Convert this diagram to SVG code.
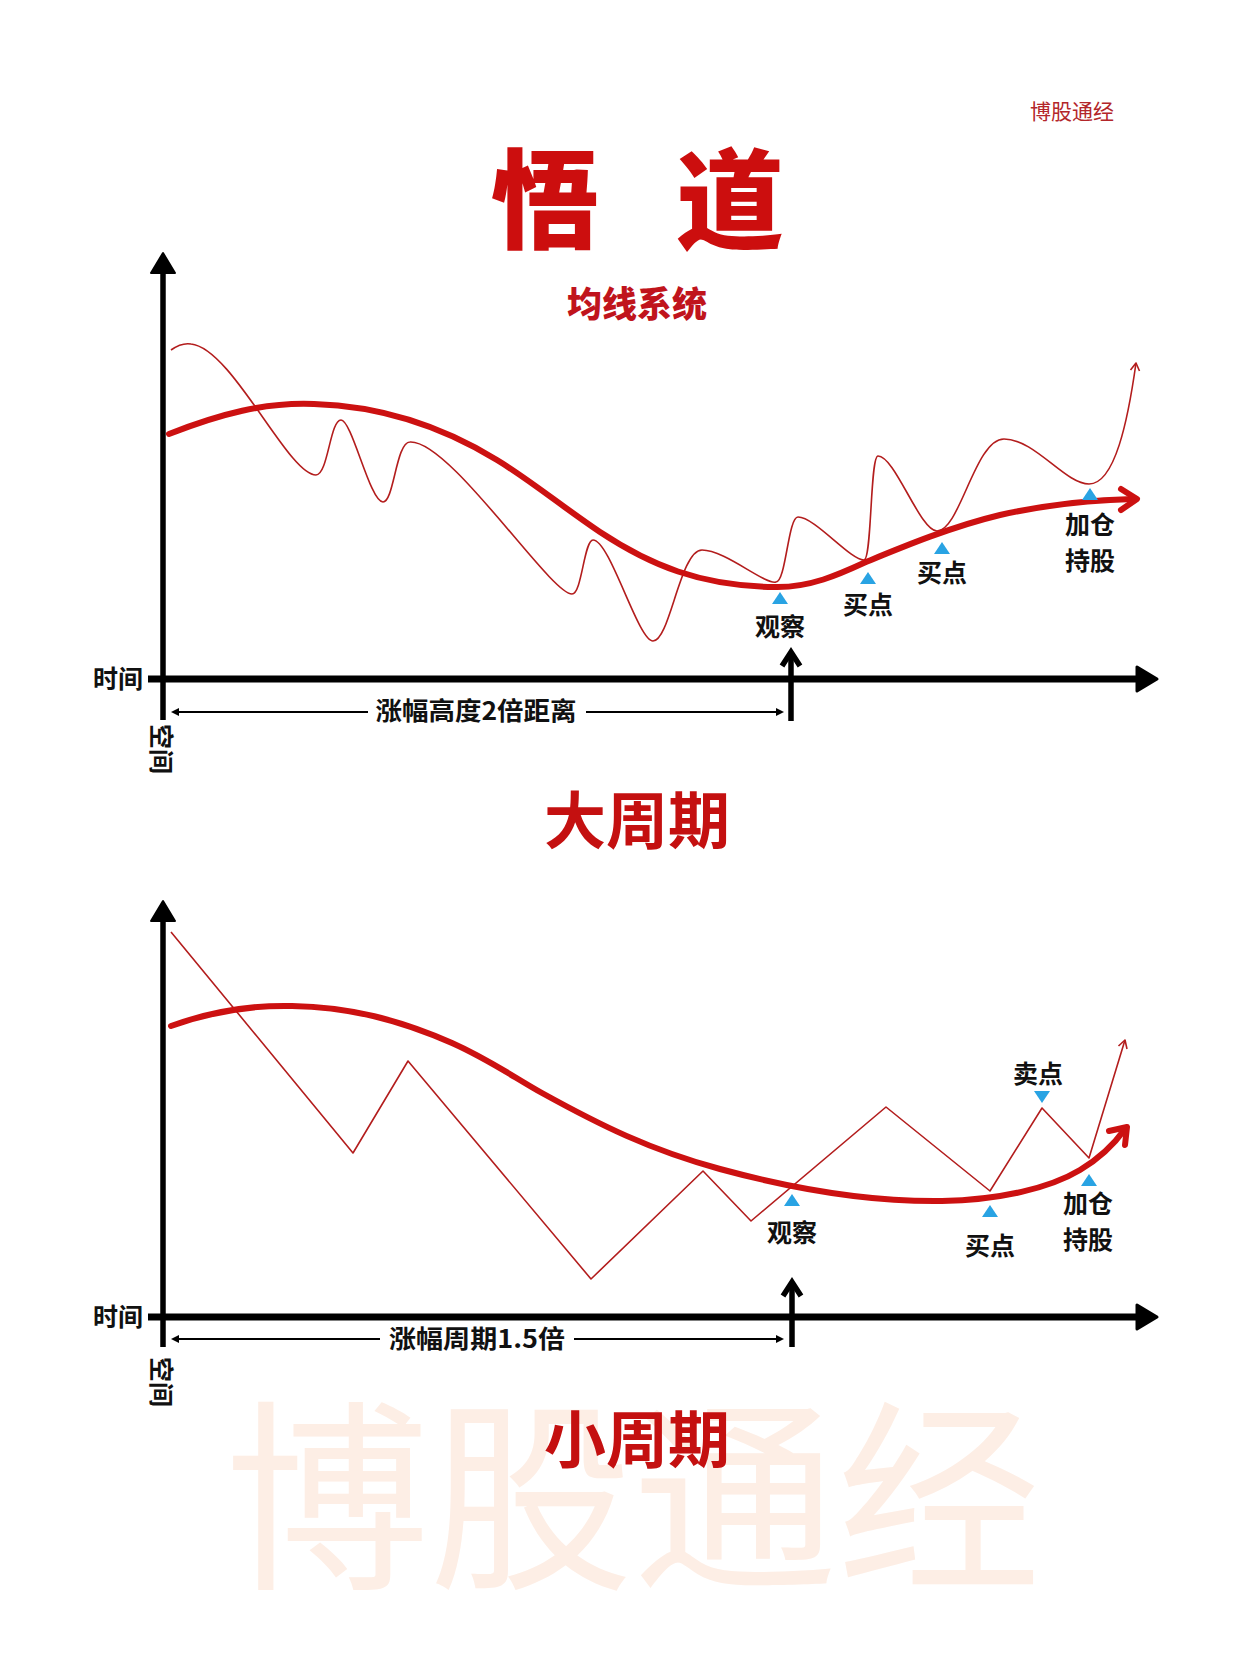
<svg xmlns="http://www.w3.org/2000/svg" width="1242" height="1660" viewBox="0 0 1242 1660">
<style>
.cjk{font-family:"Noto Sans CJK SC","Noto Sans",sans-serif}
.lbl{font-family:"Noto Sans CJK SC","Noto Sans",sans-serif;font-size:25px;font-weight:700;fill:#111;text-anchor:middle}
.end{text-anchor:end}
.start{text-anchor:start}
.axis{stroke:#000;fill:none}
.ma{stroke:#cc1111;stroke-width:6;fill:none;stroke-linecap:round;stroke-linejoin:round}
.px{stroke:#b31d1d;stroke-width:1.6;fill:none;stroke-linejoin:round}
.tri{fill:#29a3e3}
.dim{stroke:#000;stroke-width:1.8;fill:none}
.head{fill:#000}
.cycle{font-family:"Noto Sans CJK SC",sans-serif;font-size:62px;font-weight:700;fill:#c41010;text-anchor:middle}
</style>
<rect width="1242" height="1660" fill="#fff"/>
<g id="watermark">
<text x="633" y="1574" class="cjk" font-size="204" fill="#fdeee5" text-anchor="middle">博股通经</text>
</g>
<g id="brand"><text x="1072" y="119" class="cjk" font-size="21" fill="#b3262a" text-anchor="middle">博股通经</text></g>
<g id="title">
<text x="545" y="240" class="cjk" font-size="108" font-weight="900" fill="#cc0e0e" text-anchor="middle">悟</text>
<text x="730" y="240" class="cjk" font-size="108" font-weight="900" fill="#cc0e0e" text-anchor="middle">道</text>
</g>
<g id="subtitle"><text x="637" y="317" class="cjk" font-size="35" font-weight="900" fill="#c0141c" text-anchor="middle">均线系统</text></g>

<!-- Top chart -->
<g id="top-axes">
<line x1="163" y1="266" x2="163" y2="720" class="axis" stroke-width="5.5"/>
<polygon points="163,253 151,273 175,273" class="head" stroke="#000" stroke-width="2" stroke-linejoin="round"/>
<line x1="148" y1="679" x2="1140" y2="679" class="axis" stroke-width="7"/>
<polygon points="1157,679 1137,667 1137,691" class="head" stroke="#000" stroke-width="3" stroke-linejoin="round"/>
<line x1="791" y1="653" x2="791" y2="721" class="axis" stroke-width="5.5"/>
<polyline points="782,666 791,652 800,666" class="axis" stroke-width="5.5" stroke-linejoin="miter"/>
<text x="143" y="688" class="lbl end">时间</text>
<text transform="translate(152,724) rotate(90)" class="lbl start" font-size="24">空间</text>
</g>
<g id="top-dimension">
<line x1="177" y1="712" x2="368" y2="712" class="dim"/>
<line x1="586" y1="712" x2="778" y2="712" class="dim"/>
<polygon points="171,712 179,708 179,716" class="head"/>
<polygon points="784,712 776,708 776,716" class="head"/>
<text x="476" y="720" class="lbl" font-size="24" textLength="201" lengthAdjust="spacingAndGlyphs">涨幅高度2倍距离</text>
</g>
<g id="top-connectors">
<path class="px" d="M171,350 C178,345 185,343 191,344 C232,348 288,475 316,475 C328,475 330,420 341,420 C352,420 370,502 383,502 C394,502 396,442 410,442 C450,440 550,594 572,594 C582,594 584,540 593,540 C610,540 638,641 653,641 C670,641 680,550 702,550 C725,550 765,585 776,582 C786,582 788,517 798,517 C815,517 850,560 864,560 C872,560 870,456 878,456 C895,456 920,531 937,531 C960,531 975,439 1004,439 C1035,439 1065,484 1089,484 C1115,484 1128,420 1136,363"/>
<polyline class="px" points="1130.5,370 1136,363 1139.5,371"/>
<path class="ma" d="M169,434 C220,414 265,402 314,404 C380,406 440,425 497,460 C530,480 560,505 600,532 C650,565 700,586 774,587 C810,588 840,574 866,562 C900,548 950,527 1000,515 C1050,504 1090,500 1133,499"/>
<polyline class="ma" points="1121,489 1137,499 1121,510"/>
</g>
<g id="top-observe"><polygon class="tri" points="780,592 772,604 788,604"/><text x="780" y="636" class="lbl">观察</text></g>
<g id="top-buy1"><polygon class="tri" points="868,572 860,584 876,584"/><text x="868" y="614" class="lbl">买点</text></g>
<g id="top-buy2"><polygon class="tri" points="942,542 934,554 950,554"/><text x="942" y="582" class="lbl">买点</text></g>
<g id="top-add"><polygon class="tri" points="1090,488 1082,500 1098,500"/><text x="1090" y="534" class="lbl">加仓</text><text x="1090" y="570" class="lbl">持股</text></g>
<g id="big-cycle"><text x="637" y="844" class="cycle">大周期</text></g>

<!-- Bottom chart -->
<g id="bottom-axes">
<line x1="163" y1="912" x2="163" y2="1347" class="axis" stroke-width="5.5"/>
<polygon points="163,901 151,921 175,921" class="head" stroke="#000" stroke-width="2" stroke-linejoin="round"/>
<line x1="148" y1="1317" x2="1140" y2="1317" class="axis" stroke-width="7"/>
<polygon points="1157,1317 1137,1305 1137,1329" class="head" stroke="#000" stroke-width="3" stroke-linejoin="round"/>
<line x1="792" y1="1283" x2="792" y2="1347" class="axis" stroke-width="5.5"/>
<polyline points="783,1296 792,1282 801,1296" class="axis" stroke-width="5.5" stroke-linejoin="miter"/>
<text x="143" y="1326" class="lbl end">时间</text>
<text transform="translate(152,1357) rotate(90)" class="lbl start" font-size="24">空间</text>
</g>
<g id="bottom-dimension">
<line x1="177" y1="1339" x2="380" y2="1339" class="dim"/>
<line x1="574" y1="1339" x2="778" y2="1339" class="dim"/>
<polygon points="171,1339 179,1335 179,1343" class="head"/>
<polygon points="784,1339 776,1335 776,1343" class="head"/>
<text x="477" y="1348" class="lbl" font-size="24" textLength="176" lengthAdjust="spacingAndGlyphs">涨幅周期1.5倍</text>
</g>
<g id="bottom-connectors">
<polyline class="px" points="171,932 353,1153 408,1061 591,1279 703,1171 751,1221 886,1107 990,1191 1042,1108 1089,1158 1125,1040"/>
<polyline class="px" points="1118.5,1046 1125,1040 1127,1049"/>
<path class="ma" d="M171,1026 C210,1012 250,1005 292,1006 C350,1007 400,1020 452,1043 C490,1060 515,1078 542,1093 C600,1125 650,1150 720,1169 C790,1188 870,1202 942,1201 C1000,1200 1050,1188 1080,1170 C1100,1158 1115,1143 1125,1129"/>
<polyline class="ma" points="1109,1131 1127,1127 1125,1145"/>
</g>
<g id="bottom-observe"><polygon class="tri" points="792,1194 784,1206 800,1206"/><text x="792" y="1242" class="lbl">观察</text></g>
<g id="bottom-buy"><polygon class="tri" points="990,1205 982,1217 998,1217"/><text x="990" y="1255" class="lbl">买点</text></g>
<g id="bottom-sell"><polygon class="tri" points="1034,1091 1050,1091 1042,1103"/><text x="1038" y="1083" class="lbl">卖点</text></g>
<g id="bottom-add"><polygon class="tri" points="1089,1174 1081,1186 1097,1186"/><text x="1088" y="1213" class="lbl">加仓</text><text x="1088" y="1249" class="lbl">持股</text></g>
<g id="small-cycle"><text x="637" y="1463" class="cycle">小周期</text></g>
</svg>
